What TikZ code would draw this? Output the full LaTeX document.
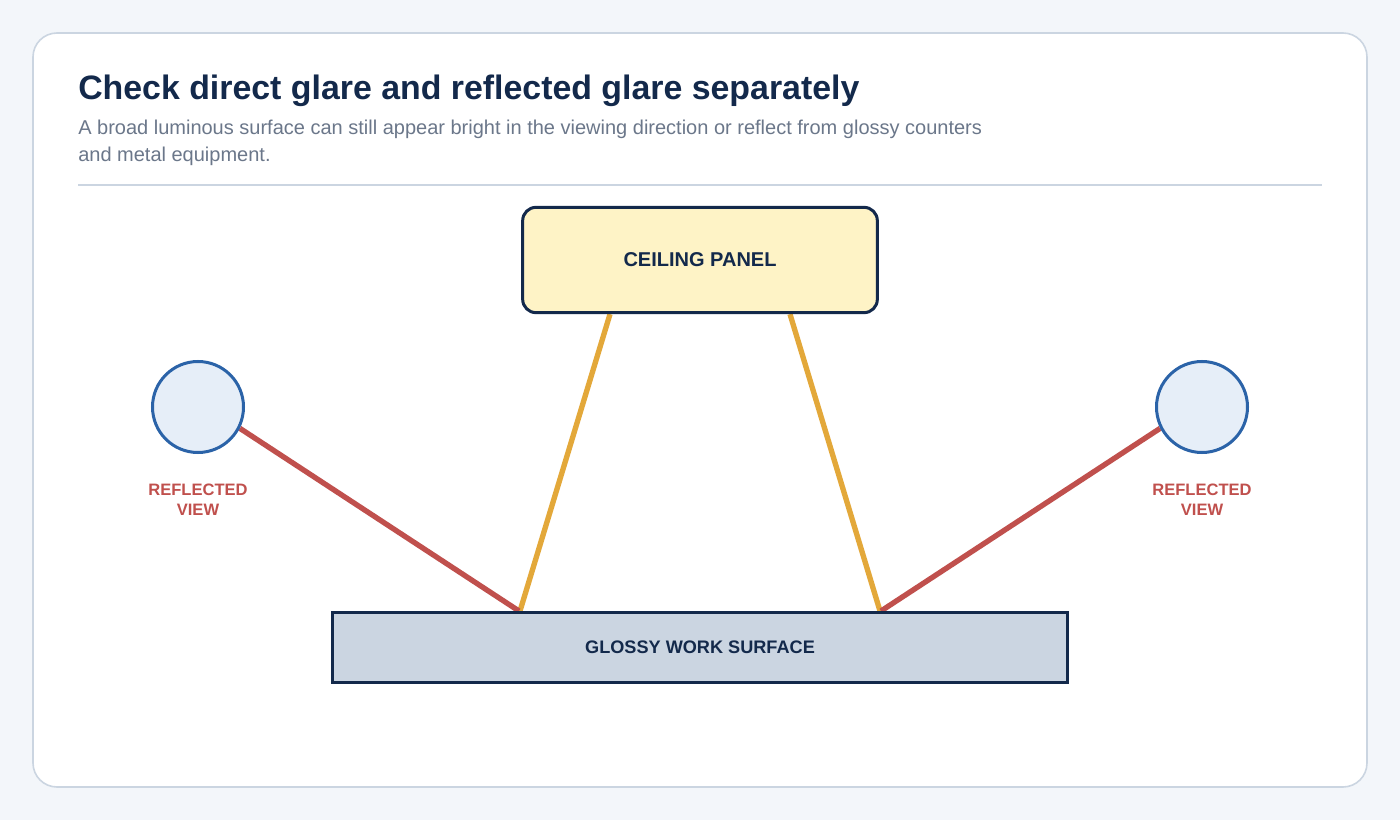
\documentclass[tikz,border=0pt]{standalone}
\usepackage{fontspec}
\setmainfont{Liberation Sans}
\usetikzlibrary{calc,backgrounds}
\definecolor{bg}{HTML}{F3F6FA}
\definecolor{cardline}{HTML}{CBD5E1}
\definecolor{navy}{HTML}{13294B}
\definecolor{subgray}{HTML}{6B778A}
\definecolor{panelfill}{HTML}{FEF3C6}
\definecolor{surffill}{HTML}{CBD5E1}
\definecolor{eyeblue}{HTML}{2B63A8}
\definecolor{eyefill}{HTML}{E6EEF8}
\definecolor{glare}{HTML}{E3A83A}
\definecolor{refl}{HTML}{C0504D}
\tikzset{
  panelbox/.style={draw=navy, line width=2.25pt, fill=panelfill, rounded corners=10pt,
    minimum width=266pt, minimum height=79pt, inner sep=0pt, text=navy,
    font=\bfseries\fontsize{15}{18}\selectfont},
  surfbox/.style={draw=navy, line width=2.25pt, fill=surffill,
    minimum width=551pt, minimum height=52.5pt, inner sep=0pt, text=navy,
    font=\bfseries\fontsize{13.6}{16}\selectfont},
  eye/.style={circle, draw=eyeblue, line width=2.25pt, fill=eyefill,
    minimum size=68.25pt, inner sep=0pt},
  eyelabel/.style={align=center, text=refl, inner sep=0pt,
    font=\bfseries\fontsize{12.4}{15}\selectfont},
  glareline/.style={draw=glare, line width=4pt},
  reflline/.style={draw=refl, line width=4pt},
}
\begin{document}
\begin{tikzpicture}[x=0.75pt,y=-0.75pt]
\useasboundingbox (0,0) rectangle (1400,820);
\begin{scope}[on background layer]
  \fill[bg] (0,0) rectangle (1400,820);
  \draw[cardline, line width=1.2pt, fill=white, rounded corners=18pt] (33,33) rectangle (1367,787);
\end{scope}
\node[anchor=base west, inner sep=0pt, text=navy, font=\bfseries\fontsize{25.4}{30}\selectfont] (title) at (78,100) {Check direct glare and reflected glare separately};
\node[anchor=base west, inner sep=0pt, text=subgray, font=\fontsize{15}{18}\selectfont] (sub1) at (78,135) {A broad luminous surface can still appear bright in the viewing direction or reflect from glossy counters};
\node[anchor=base west, inner sep=0pt, text=subgray, font=\fontsize{15}{18}\selectfont] (sub2) at (78,162) {and metal equipment.};
\draw[cardline, line width=1.5pt] (78,185) -- (1322,185);

\node[panelbox] (ceil) at (700,260) {CEILING PANEL};
\node[surfbox] (surf) at (700,647.5) {\raisebox{-2pt}{GLOSSY WORK SURFACE}};
\node[eye] (eyeL) at (198,407) {};
\node[eye] (eyeR) at (1202,407) {};
\node[eyelabel] (labL) at (198,500) {REFLECTED\\VIEW};
\node[eyelabel] (labR) at (1202,500) {REFLECTED\\VIEW};

\begin{scope}[on background layer]
  \draw[glareline] ($(ceil.south)+(-90,0)$) -- ($(surf.north)+(-180,0)$);
  \draw[glareline] ($(ceil.south)+(90,0)$) -- ($(surf.north)+(180,0)$);
  \draw[reflline] (eyeL.-27) -- ($(surf.north)+(-181,0)$);
  \draw[reflline] (eyeR.207) -- ($(surf.north)+(181,0)$);
\end{scope}
\end{tikzpicture}
\end{document}
